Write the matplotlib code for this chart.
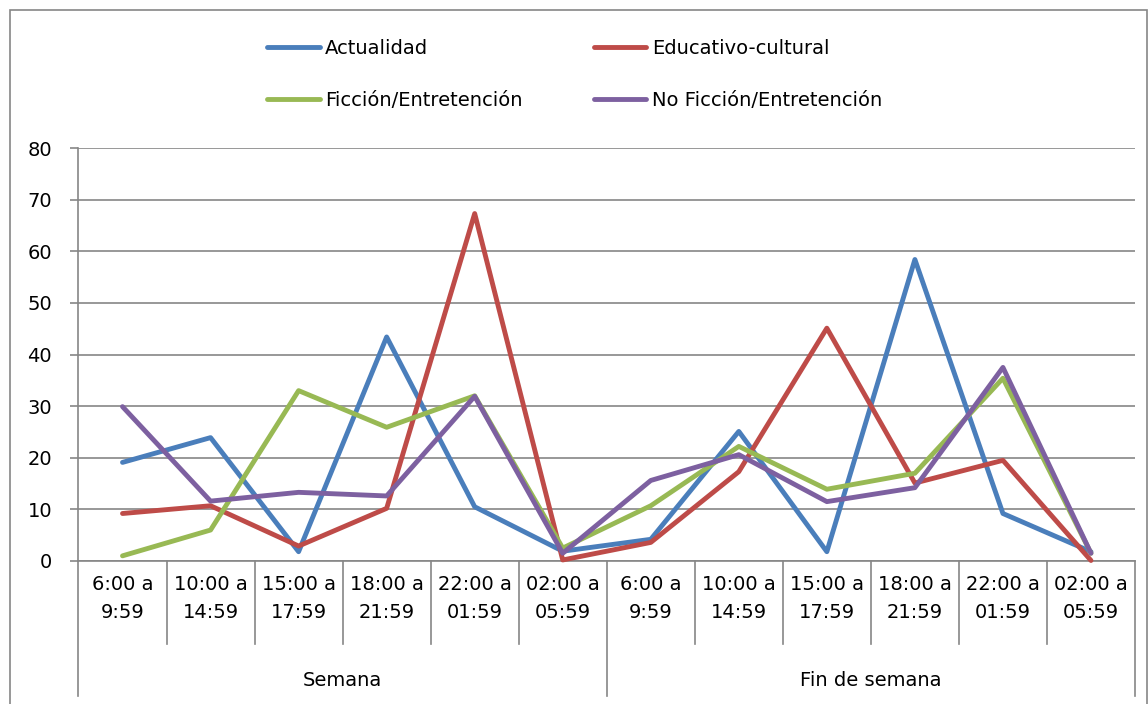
import matplotlib.pyplot as plt
from matplotlib.patches import Rectangle
import numpy as np

plt.rcParams['font.family'] = ['DejaVu Sans']

# Datos
franjas = ["6:00 a\n9:59", "10:00 a\n14:59", "15:00 a\n17:59",
           "18:00 a\n21:59", "22:00 a\n01:59", "02:00 a\n05:59"]
grupos = ["Semana", "Fin de semana"]

actualidad = [19.1, 23.9, 1.8, 43.4, 10.5, 1.9, 4.2, 25.1, 1.8, 58.4, 9.2, 1.8]
educativo = [9.2, 10.7, 2.9, 10.2, 67.3, 0.2, 3.6, 17.3, 45.1, 15.1, 19.5, 0.1]
ficcion = [1.0, 6.0, 33.0, 25.9, 32.0, 2.5, 10.7, 22.2, 13.9, 17.0, 35.4, 1.5]
no_ficcion = [29.9, 11.6, 13.3, 12.6, 31.9, 1.5, 15.6, 20.6, 11.5, 14.2, 37.5, 1.5]

series = [("Actualidad", actualidad, "#4A7EBB"),
          ("Educativo-cultural", educativo, "#BE4B48"),
          ("Ficción/Entretención", ficcion, "#98B954"),
          ("No Ficción/Entretención", no_ficcion, "#7D60A0")]

W, H = 1148, 704
fig = plt.figure(figsize=(W / 100, H / 100), dpi=100)

# area del grafico (marco gris de Excel)
fig.patches.append(Rectangle((9.5 / W, -0.01), (1146.5 - 9.5) / W, 1 - 9.5 / H + 0.01,
                             transform=fig.transFigure, fill=False,
                             edgecolor="#868686", linewidth=1.2))

left, right, top, bottom = 78.5, 1135, 148, 561
ax = fig.add_axes([left / W, 1 - bottom / H, (right - left) / W, (bottom - top) / H])

n = len(franjas) * len(grupos)
x = np.arange(n) + 0.5
handles = []
for name, vals, col in series:
    ln, = ax.plot(x, vals, color=col, lw=3.5, solid_joinstyle="round",
                  solid_capstyle="round", label=name, clip_on=False, zorder=3)
    handles.append(ln)

ax.set_xlim(0, n)
ax.set_ylim(0, 80)
ax.set_yticks(range(0, 81, 10))
ax.yaxis.grid(True, color="#868686", linewidth=1.2)
ax.set_axisbelow(True)
ax.tick_params(axis="y", length=6, width=1.2, color="#868686", labelsize=14, pad=13)
ax.set_xticks([])
for s in ["top", "right"]:
    ax.spines[s].set_visible(False)
for s in ["left", "bottom"]:
    ax.spines[s].set_color("#868686")
    ax.spines[s].set_linewidth(1.2)

# eje de categorias en dos niveles
ah = bottom - top
short = -(644 - bottom) / ah
long_ = -(696 - bottom) / ah
for i in range(n + 1):
    y1 = long_ if i % len(franjas) == 0 else short
    ax.plot([i, i], [0, y1], transform=ax.get_xaxis_transform(), color="#868686",
            lw=1.2, clip_on=False)

labels = franjas * len(grupos)
for i, lab in enumerate(labels):
    ax.text(i + 0.5, -(599 - bottom) / ah, lab, transform=ax.get_xaxis_transform(),
            ha="center", va="center", fontsize=14, linespacing=1.6)
for j, g in enumerate(grupos):
    ax.text(j * len(franjas) + len(franjas) / 2, -(681 - bottom) / ah, g,
            transform=ax.get_xaxis_transform(), ha="center", va="center", fontsize=14)

order = [handles[0], handles[2], handles[1], handles[3]]
leg = fig.legend(order, [h.get_label() for h in order], ncol=2, frameon=False,
                 loc="upper left", bbox_to_anchor=(267 / W, 1 - 39 / H),
                 borderpad=0, borderaxespad=0, fontsize=14, handlelength=2.7,
                 handletextpad=0.3, columnspacing=3.65, labelspacing=1.7)

fig.savefig("out.png", dpi=100)
